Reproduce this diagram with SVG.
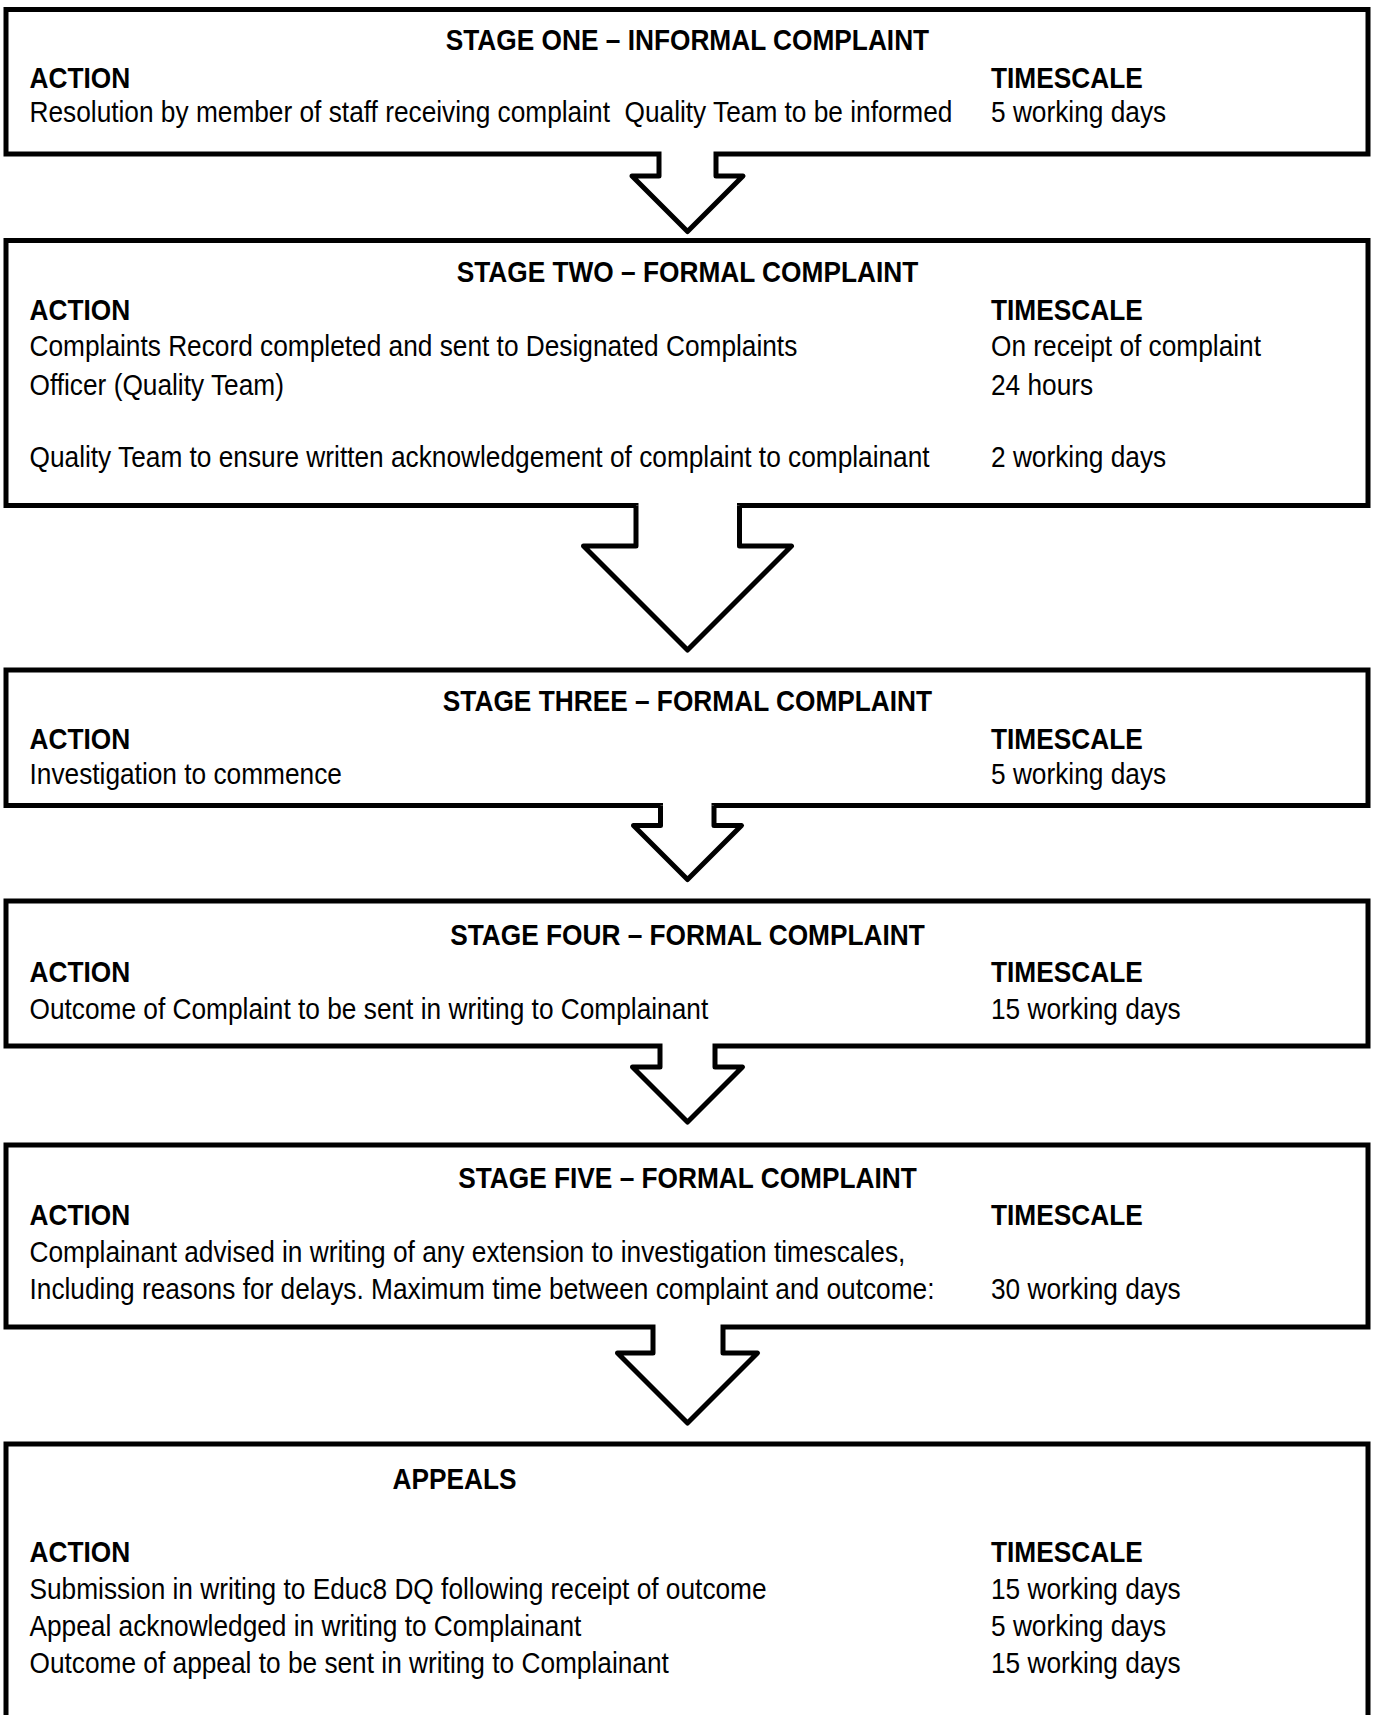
<svg xmlns="http://www.w3.org/2000/svg" width="1377" height="1715" viewBox="0 0 1377 1715">
<style>
.box{fill:#fff;stroke:#000;stroke-width:5}
.arr{fill:#fff;stroke:#000;stroke-width:5;stroke-linejoin:round}
.gap{fill:#fff}
text{font-family:"Liberation Sans",Arial,sans-serif;font-size:29px;fill:#000}
.b{font-weight:bold}
.t{text-anchor:middle}
</style>
<rect width="1377" height="1715" fill="#fff"/>
<g id="stage1">
<rect class="box" x="6" y="9.5" width="1362" height="144.5"/>
<g transform="scale(0.906 1)">
<text class="b t" x="758.8" y="50">STAGE ONE – INFORMAL COMPLAINT</text>
<text class="b" x="32.56" y="88.5">ACTION</text>
<text class="b" x="1093.8" y="88.5">TIMESCALE</text>
<text x="32.56" y="122.5">Resolution by member of staff receiving complaint</text>
<text x="689.3" y="122.5">Quality Team to be informed</text>
<text x="1093.8" y="122.5">5 working days</text>
</g>
</g>
<g id="stage2">
<rect class="box" x="6" y="240.5" width="1362" height="265"/>
<g transform="scale(0.906 1)">
<text class="b t" x="758.8" y="282.5">STAGE TWO – FORMAL COMPLAINT</text>
<text class="b" x="32.56" y="320.5">ACTION</text>
<text class="b" x="1093.8" y="320.5">TIMESCALE</text>
<text x="32.56" y="356">Complaints Record completed and sent to Designated Complaints</text>
<text x="1093.8" y="356">On receipt of complaint</text>
<text x="32.56" y="395">Officer (Quality Team)</text>
<text x="1093.8" y="395">24 hours</text>
<text x="32.56" y="467.5">Quality Team to ensure written acknowledgement of complaint to complainant</text>
<text x="1093.8" y="467.5">2 working days</text>
</g>
</g>
<g id="stage3">
<rect class="box" x="6" y="670" width="1362" height="135.5"/>
<g transform="scale(0.906 1)">
<text class="b t" x="758.8" y="711">STAGE THREE – FORMAL COMPLAINT</text>
<text class="b" x="32.56" y="748.5">ACTION</text>
<text class="b" x="1093.8" y="748.5">TIMESCALE</text>
<text x="32.56" y="784.5">Investigation to commence</text>
<text x="1093.8" y="784.5">5 working days</text>
</g>
</g>
<g id="stage4">
<rect class="box" x="6" y="901" width="1362" height="145"/>
<g transform="scale(0.906 1)">
<text class="b t" x="758.8" y="945.5">STAGE FOUR – FORMAL COMPLAINT</text>
<text class="b" x="32.56" y="982.5">ACTION</text>
<text class="b" x="1093.8" y="982.5">TIMESCALE</text>
<text x="32.56" y="1019.5">Outcome of Complaint to be sent in writing to Complainant</text>
<text x="1093.8" y="1019.5">15 working days</text>
</g>
</g>
<g id="stage5">
<rect class="box" x="6" y="1145" width="1362" height="182"/>
<g transform="scale(0.906 1)">
<text class="b t" x="758.8" y="1188.5">STAGE FIVE – FORMAL COMPLAINT</text>
<text class="b" x="32.56" y="1225.5">ACTION</text>
<text class="b" x="1093.8" y="1225.5">TIMESCALE</text>
<text x="32.56" y="1262.5">Complainant advised in writing of any extension to investigation timescales,</text>
<text x="32.56" y="1299.5">Including reasons for delays. Maximum time between complaint and outcome:</text>
<text x="1093.8" y="1299.5">30 working days</text>
</g>
</g>
<g id="appeals">
<rect class="box" x="6" y="1444" width="1362" height="300"/>
<g transform="scale(0.906 1)">
<text class="b" x="433.3" y="1489.5">APPEALS</text>
<text class="b" x="32.56" y="1562.5">ACTION</text>
<text class="b" x="1093.8" y="1562.5">TIMESCALE</text>
<text x="32.56" y="1599.5">Submission in writing to Educ8 DQ following receipt of outcome</text>
<text x="1093.8" y="1599.5">15 working days</text>
<text x="32.56" y="1636.5">Appeal acknowledged in writing to Complainant</text>
<text x="1093.8" y="1636.5">5 working days</text>
<text x="32.56" y="1673.5">Outcome of appeal to be sent in writing to Complainant</text>
<text x="1093.8" y="1673.5">15 working days</text>
</g>
</g>
<g id="connectors">
<rect class="gap" x="661.5" y="150.5" width="52" height="8"/>
<path class="arr" d="M659 154 V176 H632 L687.5 231.5 L743 176 H716 V154"/>
<rect class="gap" x="638.5" y="502" width="98.5" height="8"/>
<path class="arr" d="M636 505.5 V546 H583.5 L687.5 650 L791.5 546 H739.5 V505.5"/>
<rect class="gap" x="663" y="802" width="48.5" height="8"/>
<path class="arr" d="M660.5 805.5 V825.5 H633.5 L687.5 879.5 L741.5 825.5 H714 V805.5"/>
<rect class="gap" x="662.5" y="1042.5" width="50" height="8"/>
<path class="arr" d="M660 1046 V1067 H632.5 L687.5 1122 L742.5 1067 H715 V1046"/>
<rect class="gap" x="655.5" y="1323.5" width="65" height="8"/>
<path class="arr" d="M653 1327 V1353 H617.5 L687.5 1423 L757.5 1353 H723 V1327"/>
</g>
</svg>
